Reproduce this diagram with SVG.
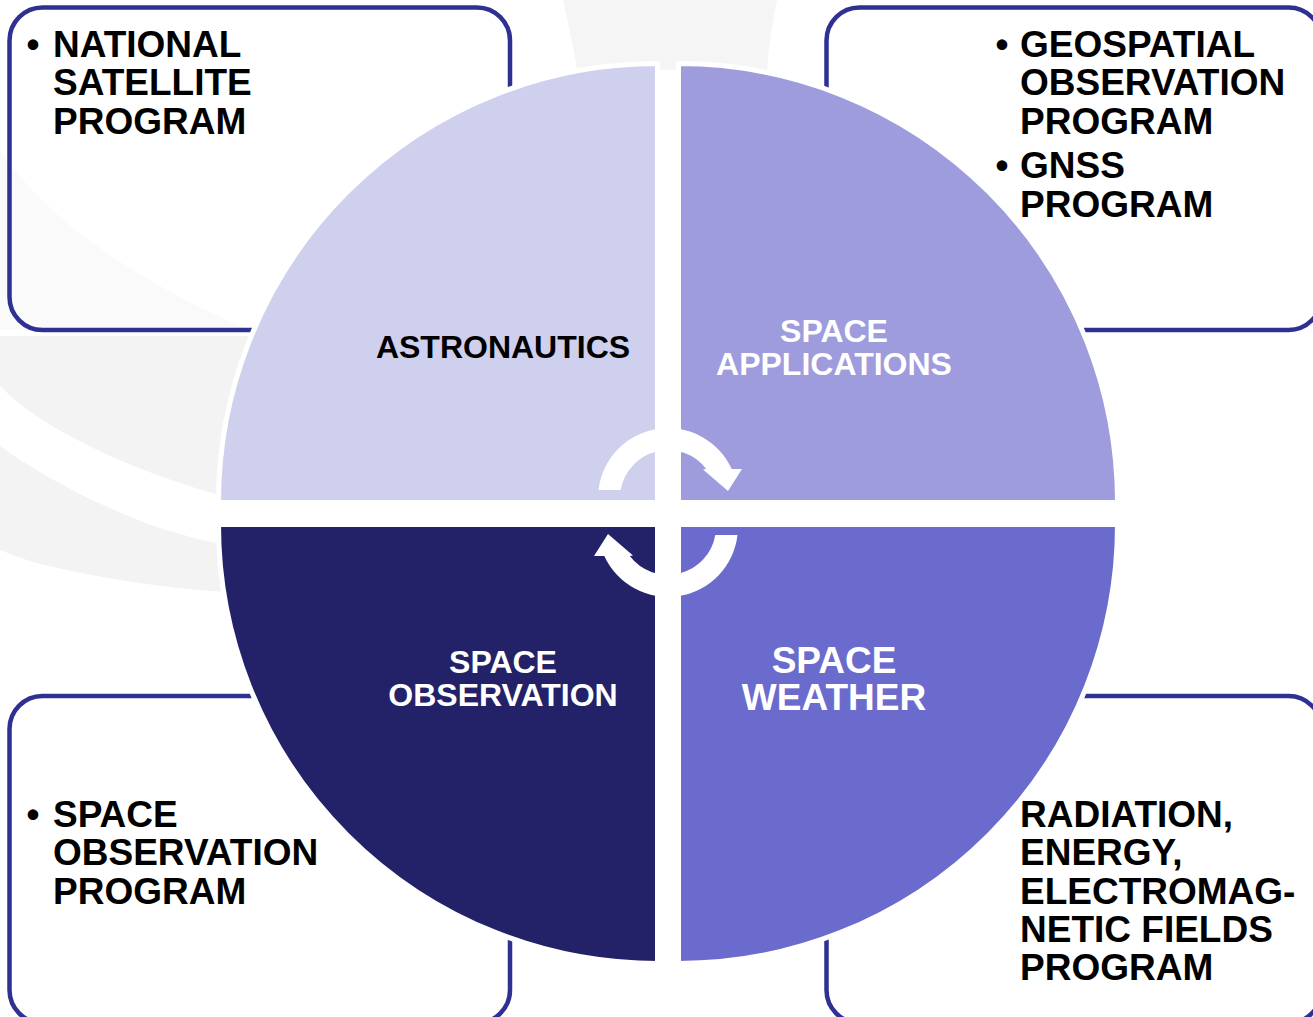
<svg xmlns="http://www.w3.org/2000/svg" width="1313" height="1017" viewBox="0 0 1313 1017">
  <style>
    .box { fill: none; stroke: #2e3192; stroke-width: 4.5; }
    .quad { stroke: #ffffff; stroke-width: 5; }
    .t { font-family: "Liberation Sans", Arial, sans-serif; font-weight: bold; }
    .bt { font-size: 37px; fill: #000000; }
    .wm { fill: #f3f3f3; }
    .arrow { fill: #ffffff; }
  </style>
  <defs>
    <path id="cycleArrow" d="M598.5,490 A70,70 0 0 1 731.7,469 L742,469 L728,491 L703,469.5 L706.2,469 A48,48 0 0 0 620.7,490 Z"/>
  </defs>
  <rect width="1313" height="1017" fill="#ffffff"/>
  <g id="watermark">
    <path fill="#f5f5f5" d="M563,0 L777,0 C772,25 769,45 767,70 L577,70 C573,45 568,22 563,0 Z"/>
    <path class="wm" d="M0,336 L265,336 L265,496 L222,496 C160,478 110,458 70,436 C40,420 18,404 0,386 Z"/>
    <path class="wm" d="M0,446 C40,475 100,507 160,528 C185,536 205,541 226,545 L300,545 L300,592 L226,592 C160,588 100,578 40,564 C25,560 10,554 0,550 Z"/>
    <path fill="#fafafa" d="M0,150 C40,210 120,275 250,330 L0,330 Z"/>
  </g>
  <g id="box-national-satellite">
    <rect class="box" x="9.5" y="7.5" width="500.5" height="322.5" rx="33"/>
    <text class="t bt" x="33" y="56.5" text-anchor="middle">•</text>
    <text class="t bt" x="53" y="56.5">NATIONAL</text>
    <text class="t bt" x="53" y="95">SATELLITE</text>
    <text class="t bt" x="53" y="133.5">PROGRAM</text>
  </g>
  <g id="box-geospatial-gnss">
    <rect class="box" x="826.5" y="7.5" width="495" height="322.5" rx="33"/>
    <text class="t bt" x="1002" y="56.5" text-anchor="middle">•</text>
    <text class="t bt" x="1020" y="56.5">GEOSPATIAL</text>
    <text class="t bt" x="1020" y="95">OBSERVATION</text>
    <text class="t bt" x="1020" y="133.5">PROGRAM</text>
    <text class="t bt" x="1002" y="178" text-anchor="middle">•</text>
    <text class="t bt" x="1020" y="178">GNSS</text>
    <text class="t bt" x="1020" y="217">PROGRAM</text>
  </g>
  <g id="box-space-observation-program">
    <rect class="box" x="9.5" y="696" width="500.5" height="327" rx="33"/>
    <text class="t bt" x="33" y="826.5" text-anchor="middle">•</text>
    <text class="t bt" x="53" y="826.5">SPACE</text>
    <text class="t bt" x="53" y="865">OBSERVATION</text>
    <text class="t bt" x="53" y="903.5">PROGRAM</text>
  </g>
  <g id="box-radiation">
    <rect class="box" x="826.5" y="696" width="495" height="327" rx="33"/>
    <text class="t bt" x="1020" y="826.5">RADIATION,</text>
    <text class="t bt" x="1020" y="865">ENERGY,</text>
    <text class="t bt" x="1020" y="903.5">ELECTROMAG-</text>
    <text class="t bt" x="1020" y="942">NETIC FIELDS</text>
    <text class="t bt" x="1020" y="980">PROGRAM</text>
  </g>
  <g id="quad-astronautics">
    <path class="quad" fill="#cfcfee" d="M657.5,502.5 L218.5,502.5 A439,439 0 0 1 657.5,63.5 Z"/>
    <text class="t" x="503" y="358" font-size="32" fill="#000000" text-anchor="middle">ASTRONAUTICS</text>
  </g>
  <g id="quad-space-applications">
    <path class="quad" fill="#9e9cdd" d="M678.5,502.5 L678.5,63.5 A439,439 0 0 1 1117.5,502.5 Z"/>
    <text class="t" x="834" y="342" font-size="32" fill="#ffffff" text-anchor="middle">SPACE</text>
    <text class="t" x="834" y="375" font-size="32" fill="#ffffff" text-anchor="middle">APPLICATIONS</text>
  </g>
  <g id="quad-space-observation">
    <path class="quad" fill="#232268" d="M657.5,524.5 L657.5,963.5 A439,439 0 0 1 218.5,524.5 Z"/>
    <text class="t" x="503" y="673" font-size="32" fill="#ffffff" text-anchor="middle">SPACE</text>
    <text class="t" x="503" y="706" font-size="32" fill="#ffffff" text-anchor="middle">OBSERVATION</text>
  </g>
  <g id="quad-space-weather">
    <path class="quad" fill="#6b6bcd" d="M678.5,524.5 L1117.5,524.5 A439,439 0 0 1 678.5,963.5 Z"/>
    <text class="t" x="834" y="673" font-size="37" fill="#ffffff" text-anchor="middle">SPACE</text>
    <text class="t" x="834" y="710" font-size="37" fill="#ffffff" text-anchor="middle">WEATHER</text>
  </g>
  <g id="connectors">
    <use href="#cycleArrow" class="arrow"/>
    <use href="#cycleArrow" class="arrow" transform="rotate(180 668 512.5)"/>
  </g>
</svg>
